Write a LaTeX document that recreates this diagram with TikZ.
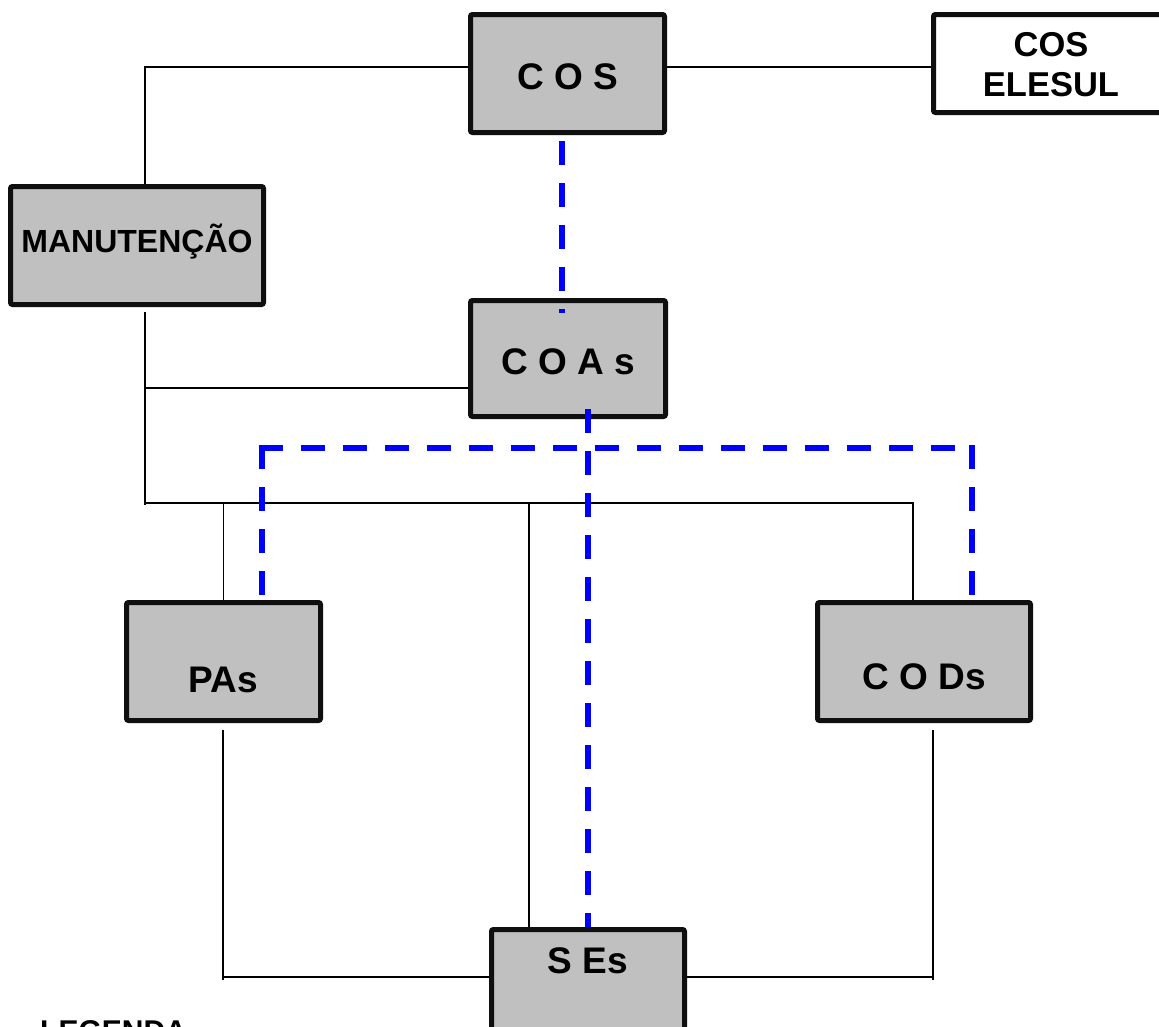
\documentclass[tikz,border=0pt]{standalone}
\usepackage{fontspec}
\setmainfont{Liberation Sans}
\definecolor{boxfill}{HTML}{C0C0C0}
\definecolor{boxline}{HTML}{0F0F0F}
\newcommand\lblfont{\fontsize{37}{40}\selectfont\bfseries}
\newcommand\manfont{\fontsize{32}{36}\selectfont\bfseries}
\newcommand\elefont{\fontsize{34.5}{40}\selectfont\bfseries}
\newcommand\legfont{\fontsize{30}{34}\selectfont\bfseries}
\begin{document}
\begin{tikzpicture}[x=1pt,y=-1pt,
  box/.style={draw=boxline, fill=boxfill, line width=5pt, rounded corners=2pt,
              inner sep=0pt, font=\lblfont},
  wire/.style={draw=black, line width=1.8pt},
  link/.style={draw=blue, line width=5.5pt, dash pattern=on 24pt off 18pt}]
\useasboundingbox (0,0) rectangle (1159,1026);
\clip (0,0) rectangle (1159,1026);
\fill[white] (0,0) rectangle (1159,1026);

% boxes
\node[box, minimum width=194pt, minimum height=118pt, text height=31pt, text depth=0pt] (cos) at (567.5,73.5) {C O S};
\node[box, fill=white, minimum width=235pt, minimum height=98pt, align=center, font=\elefont, text height=65pt, text depth=0pt] (ele) at (1051,63.5) {COS\\ELESUL};
\node[box, minimum width=253pt, minimum height=118pt, text height=13pt, text depth=0pt, font=\manfont] (man) at (137,245.5) {MANUTENÇÃO};
\node[box, minimum width=195pt, minimum height=116pt, text height=31pt, text depth=0pt] (coas) at (568,358.5) {C O A s};
\node[box, minimum width=194pt, minimum height=118pt, text height=61pt, text depth=0pt] (pas) at (223.5,661.5) {PAs};
\node[box, minimum width=213pt, minimum height=118pt, text height=55pt, text depth=0pt] (cods) at (924,661.5) {C O Ds};
\node[box, minimum width=193pt, minimum height=118pt, text height=27pt, text depth=58pt] (ses) at (588,988.5) {S Es};
\node[anchor=base west, font=\legfont, inner sep=0pt] (leg) at (40,1041) {LEGENDA};

% helper coordinates
\coordinate (ta) at (145,67);
\coordinate (mb) at (145,312);
\coordinate (ml) at (145,388);
\coordinate (busL) at (145,503);
\coordinate (busLx) at (145,505);
\coordinate (busR) at (913,503);
\coordinate (sesTap) at (529,503);
\coordinate (pb) at (223,730);
\coordinate (pl) at (223,980);
\coordinate (plc) at (223,977);
\coordinate (cb) at (933,730);
\coordinate (cl) at (933,980);
\coordinate (clc) at (933,977);

% solid connectors
\draw[wire] (cos.west |- ta) -- (ta) -- (ta |- man.north);
\draw[wire] (cos.east |- ta) -- (ele.west |- ta);
\draw[wire] (mb) -- (busLx);
\draw[wire] (ml) -- (coas.west |- ml);
\draw[wire] (busL) -- (busR) -- (busR |- cods.north);
\draw[wire] (busL -| pas.north) -- (pas.north);
\draw[wire] (sesTap) -- (sesTap |- ses.north);
\draw[wire] (pb) -- (pl);
\draw[wire] (plc) -- (ses.west |- plc);
\draw[wire] (cb) -- (cl);
\draw[wire] (ses.east |- clc) -- (clc);

% dashed blue links
\coordinate (d1) at (562,141);
\coordinate (d1e) at (562,313);
\coordinate (d2) at (588,409);
\coordinate (bl) at (262,448);
\coordinate (blx) at (259.25,448);
\coordinate (br) at (972,448);
\draw[link] (d1) -- (d1e);
\draw[link] (d2) -- (d2 |- ses.north);
\draw[link] (blx) -- (br);
\draw[link] ([yshift=2.75pt]bl) -- (bl |- pas.north);
\draw[link] ([yshift=2.75pt]br) -- (br |- cods.north);
\end{tikzpicture}
\end{document}
